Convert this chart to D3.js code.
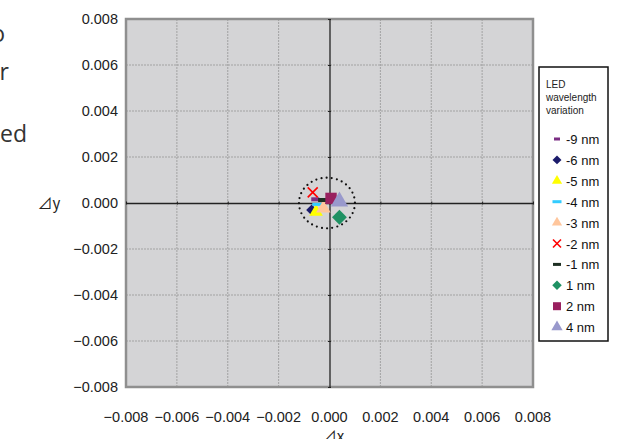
<!DOCTYPE html>
<html>
<head>
<meta charset="utf-8">
<script src="https://cdn.jsdelivr.net/npm/d3@7"></script>
<style>
  body { margin: 0; background: #fff; }
  svg { display: block; font-family: "Liberation Sans", Arial, sans-serif; }
</style>
</head>
<body>
<svg id="chart" width="619" height="439"></svg>
<script>
// LED wavelength variation -> chromaticity shift (dx, dy)
const seriesNames = ["-9 nm", "-6 nm", "-5 nm", "-4 nm", "-3 nm", "-2 nm", "-1 nm", "1 nm", "2 nm", "4 nm"];
const dxValues = [-0.00056, -0.00070, -0.00053, -0.00048, -0.00024, -0.00066, -0.00027, 0.00039, 0.00006, 0.00039];
const dyValues = [0.00016, -0.00030, -0.00038, -0.00006, -0.00023, 0.00046, 0.00013, -0.00062, 0.00020, 0.00006];
const xTicks = [-0.008, -0.006, -0.004, -0.002, 0, 0.002, 0.004, 0.006, 0.008];
const yTicks = [-0.008, -0.006, -0.004, -0.002, 0, 0.002, 0.004, 0.006, 0.008];
const circleCenter = [-0.0001, 0];
const circleRadius = 0.0011;
const legendTitle = ["LED", "wavelength", "variation"];
const sideText = ["o", "r", "ed"];

// marker looks, same order as seriesNames
const markerStyles = [
  { shape: "dash", color: "#7b2d83", w: 8, h: 4, lw: 6, lh: 3 },
  { shape: "diamond", color: "#1b1b6b", size: 60, lsize: 40 },
  { shape: "triangle", color: "#ffff00", size: 80, lsize: 45 },
  { shape: "dash", color: "#33ccff", w: 10, h: 3, lw: 9, lh: 3 },
  { shape: "triangle", color: "#ffc69c", size: 90, lsize: 45 },
  { shape: "x", color: "#ff0000", size: 10, lsize: 8 },
  { shape: "dash", color: "#1d2f22", w: 9, h: 4, lw: 8, lh: 3 },
  { shape: "diamond", color: "#1e9163", size: 110, lsize: 45 },
  { shape: "square", color: "#99205f", size: 130, lsize: 64 },
  { shape: "triangle", color: "#9999cc", size: 130, lsize: 55 }
];

const svg = d3.select("#chart");
const margin = { left: 126, right: 533, top: 19, bottom: 387 };

const x = d3.scaleLinear().domain([-0.008, 0.008]).range([margin.left, margin.right]);
const y = d3.scaleLinear().domain([-0.008, 0.008]).range([margin.bottom, margin.top]);
const fmt = d3.format(".3f");

// cut-off text on the left edge
svg.selectAll(".side")
  .data(sideText)
  .enter().append("text")
  .attr("x", (d, i) => [5, 9, 27][i])
  .attr("y", (d, i) => [42, 80, 142][i])
  .attr("text-anchor", "end")
  .style("font-family", "'Open Sans', 'Noto Sans', sans-serif")
  .style("font-size", "23px")
  .style("fill", "#333")
  .text(d => d);

// plot background
svg.append("rect")
  .attr("x", margin.left).attr("y", margin.top)
  .attr("width", margin.right - margin.left)
  .attr("height", margin.bottom - margin.top)
  .attr("fill", "#d4d4d6");

// gridlines
svg.append("g").selectAll("line")
  .data(xTicks.filter(d => d !== 0))
  .enter().append("line")
  .attr("x1", d => x(d)).attr("x2", d => x(d))
  .attr("y1", margin.top).attr("y2", margin.bottom)
  .attr("stroke", "#8c8c8c").attr("stroke-width", 0.7)
  .attr("stroke-dasharray", "2,1");

svg.append("g").selectAll("line")
  .data(yTicks.filter(d => d !== 0))
  .enter().append("line")
  .attr("x1", margin.left).attr("x2", margin.right)
  .attr("y1", d => y(d)).attr("y2", d => y(d))
  .attr("stroke", "#8c8c8c").attr("stroke-width", 0.7)
  .attr("stroke-dasharray", "2,1");

// plot border
svg.append("rect")
  .attr("x", margin.left).attr("y", margin.top)
  .attr("width", margin.right - margin.left)
  .attr("height", margin.bottom - margin.top)
  .attr("fill", "none")
  .attr("stroke", "#8f8f8f").attr("stroke-width", 2.5);

// zero axes through the middle
svg.append("g")
  .attr("transform", `translate(0,${y(0)})`)
  .call(d3.axisBottom(x).tickValues(xTicks).tickSize(3).tickSizeOuter(0).tickFormat(""))
  .call(g => g.select(".domain").attr("stroke", "#222").attr("stroke-width", 1.3))
  .call(g => g.selectAll(".tick line").attr("stroke", "#222").attr("transform", "translate(0,-1.5)"));

svg.append("g")
  .attr("transform", `translate(${x(0)},0)`)
  .call(d3.axisLeft(y).tickValues(yTicks).tickSize(3).tickSizeOuter(0).tickFormat(""))
  .call(g => g.select(".domain").attr("stroke", "#222").attr("stroke-width", 1.3))
  .call(g => g.selectAll(".tick line").attr("stroke", "#222").attr("transform", "translate(1.5,0)"));

// tick labels
svg.append("g").selectAll("text")
  .data(xTicks)
  .enter().append("text")
  .attr("x", d => x(d))
  .attr("y", 422)
  .attr("text-anchor", "middle")
  .style("font-size", "14.5px")
  .style("fill", "#222")
  .text(d => fmt(d));

svg.append("g").selectAll("text")
  .data(yTicks)
  .enter().append("text")
  .attr("x", 118)
  .attr("y", d => y(d) + 5)
  .attr("text-anchor", "end")
  .style("font-size", "14.5px")
  .style("fill", "#222")
  .text(d => fmt(d));

// axis titles
svg.append("text")
  .attr("x", 333).attr("y", 442)
  .attr("text-anchor", "middle")
  .style("font-family", "'Noto Sans CJK JP', sans-serif")
  .style("font-size", "15px").style("fill", "#222")
  .text("⊿x");

svg.append("text")
  .attr("x", 49).attr("y", y(0) + 6)
  .attr("text-anchor", "middle")
  .style("font-family", "'Noto Sans CJK JP', sans-serif")
  .style("font-size", "15px").style("fill", "#222")
  .text("⊿y");

// dotted tolerance circle
svg.append("ellipse")
  .attr("cx", x(circleCenter[0])).attr("cy", y(circleCenter[1]))
  .attr("rx", x(circleRadius) - x(0))
  .attr("ry", y(0) - y(circleRadius))
  .attr("fill", "none")
  .attr("stroke", "#111").attr("stroke-width", 2.2)
  .attr("stroke-linecap", "round")
  .attr("stroke-dasharray", "0,5.2");

// marker drawing helper
function drawMarker(g, st, legend) {
  if (st.shape === "dash") {
    const w = legend ? st.lw : st.w, h = legend ? st.lh : st.h;
    g.append("rect").attr("x", -w / 2).attr("y", -h / 2)
      .attr("width", w).attr("height", h).attr("fill", st.color);
  } else if (st.shape === "x") {
    const s = (legend ? st.lsize : st.size) / 2;
    g.append("path")
      .attr("d", `M${-s},${-s}L${s},${s}M${-s},${s}L${s},${-s}`)
      .attr("stroke", st.color).attr("stroke-width", 1.6).attr("fill", "none");
  } else {
    const type = { diamond: d3.symbolSquare, triangle: d3.symbolTriangle, square: d3.symbolSquare }[st.shape];
    const size = legend ? st.lsize : st.size;
    const sym = d3.symbol().type(type).size(size);
    g.append("path")
      .attr("d", sym())
      .attr("transform", st.shape === "diamond" ? "rotate(45)" : null)
      .attr("fill", st.color);
  }
}

// data points
const points = seriesNames.map((n, i) => ({ name: n, dx: dxValues[i], dy: dyValues[i], st: markerStyles[i] }));

svg.append("g").selectAll("g")
  .data(points)
  .enter().append("g")
  .attr("transform", d => `translate(${x(d.dx)},${y(d.dy)})`)
  .each(function (d) { drawMarker(d3.select(this), d.st, false); });

// legend
const legend = svg.append("g");
legend.append("rect")
  .attr("x", 539).attr("y", 67)
  .attr("width", 69).attr("height", 274)
  .attr("fill", "#fff")
  .attr("stroke", "#111").attr("stroke-width", 1.5);

legend.selectAll(".lt")
  .data(legendTitle)
  .enter().append("text")
  .attr("x", 546)
  .attr("y", (d, i) => 88 + i * 13)
  .style("font-size", "10px")
  .style("fill", "#222")
  .text(d => d);

const items = legend.selectAll(".li")
  .data(points)
  .enter().append("g")
  .attr("transform", (d, i) => `translate(557,${139 + i * 20.9})`);

items.each(function (d) { drawMarker(d3.select(this), d.st, true); });

items.append("text")
  .attr("x", 9).attr("y", 5)
  .style("font-size", "13px")
  .style("fill", "#111")
  .text(d => d.name);
</script>
</body>
</html>
